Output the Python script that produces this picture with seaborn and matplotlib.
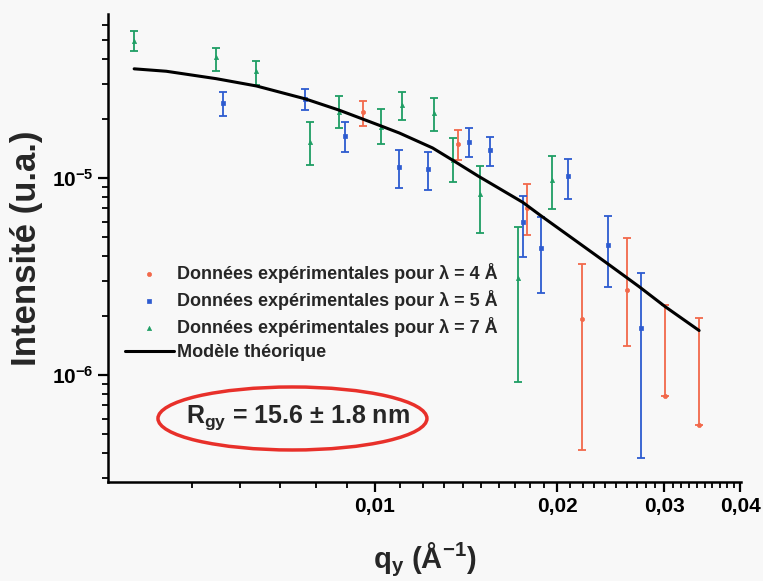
import numpy as np
import pandas as pd
import seaborn as sns
import matplotlib.pyplot as plt
from matplotlib.patches import Ellipse
from matplotlib.ticker import FixedLocator, FixedFormatter, NullFormatter

# values (intensities in units of 1e-6)
q_red = [0.00959, 0.01371, 0.01781, 0.02196, 0.02604, 0.03010, 0.03423]
i_red = [21.6, 14.9, 7.05, 1.92, 2.70, 0.782, 0.557]
top_red = [24.6, 17.5, 9.29, 3.66, 4.94, 2.27, 1.95]
bot_red = [18.4, 12.3, 5.14, 0.416, 1.41, 0.782, 0.557]

q_blue = [0.00563, 0.00769, 0.00893, 0.01099, 0.01224, 0.01428, 0.01550, 0.01754, 0.01880, 0.02080, 0.02420, 0.02746]
i_blue = [24.1, 25.2, 16.3, 11.3, 11.1, 15.3, 13.8, 5.96, 4.43, 10.2, 4.57, 1.74]
top_blue = [27.3, 28.3, 19.2, 13.9, 13.6, 17.9, 16.2, 8.10, 6.36, 12.5, 6.41, 3.31]
bot_blue = [20.6, 22.0, 13.5, 8.87, 8.69, 12.7, 11.5, 3.96, 2.60, 7.82, 2.79, 0.378]

q_green = [0.00402, 0.00549, 0.00639, 0.00784, 0.00874, 0.01023, 0.01111, 0.01255, 0.01345, 0.01492, 0.01725, 0.01960]
i_green = [49.8, 41.0, 34.7, 15.3, 21.7, 18.2, 23.5, 21.3, 12.3, 8.30, 3.10, 9.77]
top_green = [55.9, 45.9, 39.3, 19.2, 26.2, 22.3, 27.4, 25.4, 15.9, 11.5, 5.62, 12.9]
bot_green = [44.1, 34.9, 29.7, 11.7, 18.0, 14.9, 19.7, 17.3, 9.58, 5.24, 0.925, 6.96]

q_model = [0.00402, 0.00454, 0.00549, 0.00639, 0.00769, 0.00874, 0.01023, 0.01099, 0.01246,
           0.01345, 0.01483, 0.01754, 0.01880, 0.02130, 0.02405, 0.02729, 0.03010, 0.03423]
i_model = [35.8, 34.8, 31.9, 29.3, 25.2, 22.1, 18.4, 16.9, 14.2,
           12.3, 10.2, 7.52, 6.42, 4.87, 3.72, 2.80, 2.22, 1.68]

x_ticks = [0.01, 0.02, 0.03, 0.04]
x_ticklabels = ["0,01", "0,02", "0,03", "0,04"]
y_ticks = [1e-6, 1e-5]
y_ticklabels = [r"$10^{-6}$", r"$10^{-5}$"]

series = [
    ("Données expérimentales pour λ = 4 Å", q_red, i_red, top_red, bot_red, "#f2694b", "o"),
    ("Données expérimentales pour λ = 5 Å", q_blue, i_blue, top_blue, bot_blue, "#2d5bd0", "s"),
    ("Données expérimentales pour λ = 7 Å", q_green, i_green, top_green, bot_green, "#1e9e64", "^"),
]

sns.set_theme(style="ticks")
plt.rcParams["font.family"] = ["Liberation Sans", "DejaVu Sans"]
plt.rcParams["font.weight"] = "bold"
plt.rcParams["axes.labelweight"] = "bold"
plt.rcParams["mathtext.fontset"] = "custom"
plt.rcParams["mathtext.rm"] = "Liberation Sans:bold"
plt.rcParams["mathtext.bf"] = "Liberation Sans:bold"
plt.rcParams["mathtext.it"] = "Liberation Sans:bold"
plt.rcParams["mathtext.default"] = "bf"

bg = "#f8f8f8"
fig, ax = plt.subplots(figsize=(7.63, 5.81), dpi=100)
fig.patch.set_facecolor(bg)
ax.set_facecolor(bg)
fig.subplots_adjust(left=0.1415, right=0.971, top=0.976, bottom=0.1704)

ax.set_xscale("log")
ax.set_yscale("log")

for label, q, i, top, bot, col, mk in series:
    q = np.array(q)
    i = np.array(i) * 1e-6
    top = np.array(top) * 1e-6
    bot = np.array(bot) * 1e-6
    ax.errorbar(q, i, yerr=[i - bot, top - i], fmt="none", ecolor=col,
                elinewidth=1.3, capsize=3, capthick=1.3, zorder=2)
    sns.scatterplot(x=q, y=i, marker=mk, color=col, edgecolor=col, s=9,
                    linewidth=0.5, label=label, ax=ax, zorder=3)

model = pd.DataFrame({"q": q_model, "I": np.array(i_model) * 1e-6})
sns.lineplot(data=model, x="q", y="I", color="black", linewidth=2.2,
             label="Modèle théorique", ax=ax, zorder=4)

ax.set_xlim(0.00364, 0.0401)
ax.set_ylim(2.86e-7, 6.8e-5)

ax.xaxis.set_major_locator(FixedLocator(x_ticks))
ax.xaxis.set_major_formatter(FixedFormatter(x_ticklabels))
minor_x = [k / 1000 for k in range(5, 40) if k % 10 != 0]
ax.xaxis.set_minor_locator(FixedLocator(minor_x))
ax.xaxis.set_minor_formatter(NullFormatter())
ax.yaxis.set_major_locator(FixedLocator(y_ticks))
ax.yaxis.set_major_formatter(FixedFormatter(y_ticklabels))
ax.yaxis.set_minor_formatter(NullFormatter())

ax.tick_params(which="major", direction="out", length=7, width=1.6,
               labelsize=15, colors="black")
ax.tick_params(which="minor", direction="out", length=4, width=1.3, colors="black")
for s in ["left", "bottom"]:
    ax.spines[s].set_linewidth(1.8)
    ax.spines[s].set_color("black")
sns.despine(ax=ax)

ax.set_xlabel(r"q$_y$ (Å$^{-1}$)", fontsize=21, fontweight="bold", labelpad=18)
ax.set_ylabel("Intensité (u.a.)", fontsize=25, fontweight="bold", labelpad=6)

handles, labels = ax.get_legend_handles_labels()
ax.legend(handles, labels, loc="center left", bbox_to_anchor=(0.027, 0.363),
          frameon=False, handlelength=2.7, handletextpad=0.15, labelspacing=0.4,
          borderpad=0, borderaxespad=0, prop={"size": 13, "weight": "bold"})

ax.add_patch(Ellipse((0.2915, 0.1357), 0.425, 0.1346, transform=ax.transAxes,
                     fill=False, edgecolor="#e8302a", linewidth=2.5))
ax.text(0.300, 0.126, r"R$_{gy}$ = 15.6 ± 1.8 nm", transform=ax.transAxes,
        ha="center", va="baseline", fontsize=18, fontweight="bold")

fig.savefig("out.png", dpi=100, facecolor=bg)
